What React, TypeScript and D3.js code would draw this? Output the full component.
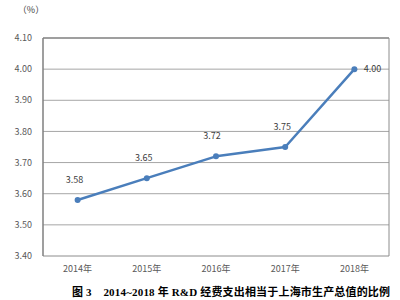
import React from "react";
import * as d3 from "d3";

const years = ["2014年", "2015年", "2016年", "2017年", "2018年"];
const values = [3.58, 3.65, 3.72, 3.75, 4.0];
const yTicks = [3.4, 3.5, 3.6, 3.7, 3.8, 3.9, 4.0, 4.1];
const title = "图 3    2014~2018 年 R&D 经费支出相当于上海市生产总值的比例";
const unit = "（%）";

export default function App() {
  const W = 400, H = 300;
  const left = 43, right = 389, top = 38, bottom = 256;
  const x = d3.scaleBand<string>().domain(years).range([left, right]);
  const y = d3.scaleLinear().domain([3.4, 4.1]).range([bottom, top]);
  const cx = (d: string) => (x(d) ?? 0) + x.bandwidth() / 2;
  const line = d3.line<number>().x((_, i) => cx(years[i])).y((v) => y(v));
  const font = "'Microsoft YaHei', 'Noto Sans CJK SC', 'DejaVu Sans', sans-serif";
  const labelPos = values.map((v, i) =>
    i === values.length - 1
      ? { dx: 18, dy: 0, anchor: "middle" }
      : i === 2
      ? { dx: -4, dy: -20, anchor: "middle" }
      : { dx: -3, dy: -20, anchor: "middle" }
  );
  return (
    <svg width={W} height={H} style={{ position: "absolute", left: 0, top: 0, background: "#fff" }}>
      <rect x={0} y={0} width={W} height={H} fill="#fff" />
      {yTicks.map((t) => (
        <g key={t}>
          {t > 3.4 && t < 4.1 && (
            <line x1={left} x2={right} y1={y(t)} y2={y(t)} stroke="#a6a6a6" strokeWidth={1} />
          )}
          <text x={32} y={y(t)} dy="0.35em" textAnchor="end" fontSize={9} fill="#595959" fontFamily={font}>
            {t.toFixed(2)}
          </text>
        </g>
      ))}
      <line x1={left} x2={right} y1={top} y2={top} stroke="#7f7f7f" strokeWidth={1.5} />
      <line x1={right} x2={right} y1={top} y2={bottom} stroke="#8c8c8c" strokeWidth={1} />
      <line x1={left} x2={right} y1={bottom} y2={bottom} stroke="#8c8c8c" strokeWidth={1} />
      <line x1={left} x2={left} y1={top} y2={bottom} stroke="#7f7f7f" strokeWidth={1.5} />
      <text x={31} y={10} dy="0.35em" textAnchor="middle" fontSize={9} fill="#404040" fontFamily={font}>
        {unit}
      </text>
      {years.map((yr) => (
        <text key={yr} x={cx(yr)} y={269} dy="0.35em" textAnchor="middle" fontSize={9} fill="#595959" fontFamily={font}>
          {yr}
        </text>
      ))}
      <path d={line(values) ?? ""} fill="none" stroke="#4a7ebb" strokeWidth={2.5} strokeLinejoin="round" />
      {values.map((v, i) => (
        <circle key={i} cx={cx(years[i])} cy={y(v)} r={3} fill="#4a7ebb" />
      ))}
      {values.map((v, i) => (
        <text
          key={"l" + i}
          x={cx(years[i]) + labelPos[i].dx}
          y={y(v) + labelPos[i].dy}
          dy="0.35em"
          textAnchor={labelPos[i].anchor as any}
          fontSize={9}
          fill="#404040"
          fontFamily={font}
        >
          {v.toFixed(2)}
        </text>
      ))}
      <text
        x={72}
        y={292}
        dy="0.35em"
        textAnchor="start"
        fontSize={11}
        fontWeight="bold"
        fill="#000"
        fontFamily="'Liberation Serif', 'Noto Sans CJK SC', serif"
        textLength={318}
        lengthAdjust="spacing"
        style={{ whiteSpace: "pre" }}
      >
        {title}
      </text>
    </svg>
  );
}
